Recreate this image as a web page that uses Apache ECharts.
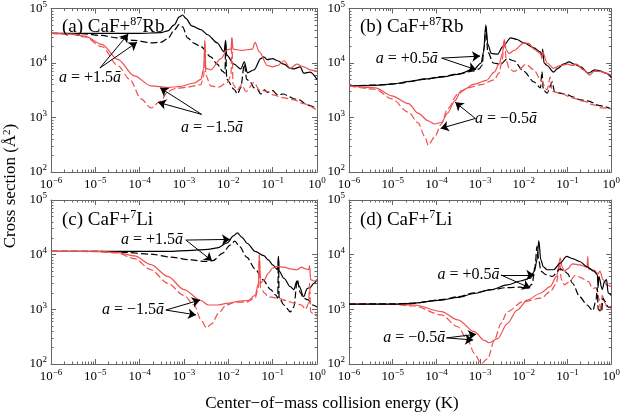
<!DOCTYPE html>
<html>
<head>
<meta charset="utf-8">
<script src="https://cdn.jsdelivr.net/npm/echarts@6/dist/echarts.min.js"></script>
<style>
  html, body { margin: 0; padding: 0; background: #fff; }
  #chart { width: 623px; height: 416px; }
</style>
</head>
<body>
<div id="chart"></div>
<script>
// ---- data: [collision energy (K), cross section (A^2)] ----

// (a) CaF + 87Rb, a = +/-1.5 abar
var a_plusSolid = [[1e-6,3.5e4],[1e-5,3.5e4],[1e-4,3.5e4],[3e-4,3.6e4],[4.3e-4,3.9e4],[6e-4,5e4],[7.8e-4,7e4],[9.3e-4,7.6e4],[1.1e-3,6.6e4],[1.5e-3,4.8e4],[2.4e-3,4.1e4],[3.4e-3,3.3e4],[5.6e-3,2.35e4],[8e-3,1.6e4],[8.7e-3,2.6e4],[9.2e-3,1.4e4],[1.35e-2,9.5e3],[1.9e-2,7.8e3],[2.3e-2,1.05e4],[2.7e-2,6.6e3],[3.8e-2,7.5e3],[5.4e-2,1.2e4],[6.3e-2,1.3e4],[7.5e-2,1.15e4],[0.1,1.2e4],[0.13,1.1e4],[0.18,9.5e3],[0.25,8e3],[0.3,7.8e3],[0.42,8.5e3],[0.5,6.5e3],[0.7,6.8e3],[1,5e3]];
var a_plusDashed = [[1e-6,3.5e4],[5e-6,3.45e4],[1.4e-5,3.2e4],[3e-5,2.9e4],[7.6e-5,2.6e4],[1.8e-4,2.35e4],[3e-4,2.4e4],[4.3e-4,2.8e4],[6e-4,4e4],[7.8e-4,5.1e4],[9.3e-4,4.6e4],[1.2e-3,2.9e4],[1.7e-3,2.3e4],[2.4e-3,2e4],[4e-3,1.3e4],[5.6e-3,9.5e3],[7.5e-3,7e3],[8.4e-3,6.5e3],[8.7e-3,2.2e4],[9.2e-3,5e3],[1.35e-2,3.3e3],[1.6e-2,2.7e3],[1.9e-2,3.5e3],[2.3e-2,9.5e3],[2.6e-2,5e3],[3.1e-2,4.5e3],[3.8e-2,3.5e3],[4.5e-2,3.3e3],[5.4e-2,2.7e3],[6.5e-2,3.2e3],[7.6e-2,2.9e3],[0.1,3.1e3],[0.13,2.6e3],[0.18,2.7e3],[0.24,2.4e3],[0.3,2.2e3],[0.4,2.1e3],[0.6,1.7e3],[1,1.45e3]];
var a_minusSolid = [[1e-6,3.5e4],[3e-6,3.4e4],[5.8e-6,3.1e4],[1.4e-5,2.2e4],[3.2e-5,1.17e4],[7.6e-5,5.8e3],[1.8e-4,3.8e3],[4.3e-4,3.55e3],[8e-4,3.7e3],[1.7e-3,4.3e3],[2.4e-3,5e3],[2.8e-3,8e3],[2.95e-3,2.6e4],[3.1e-3,8e3],[4e-3,7.5e3],[6.8e-3,1.2e4],[9.5e-3,1.75e4],[1.15e-2,1.8e4],[1.2e-2,2.9e4],[1.28e-2,1.8e4],[2e-2,1.7e4],[3.5e-2,1.8e4],[4e-2,2.4e4],[5e-2,1.6e4],[7.6e-2,9e3],[0.1,8.5e3],[0.13,9e3],[0.18,1.1e4],[0.25,8e3],[0.35,9.5e3],[0.5,8.5e3],[0.7,7.5e3],[1,7e3]];
var a_minusDashed = [[1e-6,3.5e4],[3e-6,3.35e4],[5.8e-6,3e4],[1.4e-5,2e4],[3.2e-5,9e3],[6e-5,5e3],[1.07e-4,2.2e3],[1.8e-4,1.5e3],[3e-4,2e3],[4.3e-4,3e3],[6.3e-4,3.4e3],[1.2e-3,3.6e3],[2.4e-3,4e3],[2.8e-3,6e3],[2.95e-3,2.5e4],[3.1e-3,6e3],[4e-3,3.8e3],[6e-3,3.6e3],[9.5e-3,4.4e3],[1.15e-2,6e3],[1.2e-2,2.9e4],[1.28e-2,4e3],[1.6e-2,3.2e3],[2e-2,4e3],[2.5e-2,3e3],[3.8e-2,4.4e3],[5e-2,3.2e3],[7.6e-2,3e3],[0.1,2.6e3],[0.18,2.3e3],[0.3,2.1e3],[0.5,1.8e3],[1,1.35e3]];

// (b) CaF + 87Rb, a = +/-0.5 abar
var b_plusSolid = [[1e-6,3.8e3],[4e-6,3.9e3],[9.5e-6,4.1e3],[2.5e-5,4.6e3],[5.5e-5,5.1e3],[1.3e-4,5.5e3],[3.1e-4,6.2e3],[7.4e-4,7.8e3],[1.05e-3,1e4],[1.2e-3,1.6e4],[1.35e-3,5e4],[1.5e-3,2.2e4],[1.8e-3,1.5e4],[2.5e-3,1.45e4],[3.3e-3,2e4],[5e-3,2.9e4],[7e-3,2.7e4],[1e-2,2.35e4],[1.7e-2,1.9e4],[2.4e-2,1.6e4],[2.6e-2,1.3e4],[2.7e-2,1.8e4],[2.9e-2,1e4],[3.4e-2,9e3],[4.8e-2,6.8e3],[6e-2,8e3],[8e-2,9.5e3],[0.11,1.05e4],[0.14,9.5e3],[0.2,8.5e3],[0.3,6.5e3],[0.42,7.5e3],[0.55,7.2e3],[0.75,6.5e3],[1,5.4e3]];
var b_plusDashed = [[1e-6,3.8e3],[5e-6,3.95e3],[1.3e-5,4.2e3],[5e-5,5e3],[1.3e-4,5.6e3],[3.1e-4,6.3e3],[7.4e-4,7.2e3],[9.5e-4,7.8e3],[1.1e-3,9e3],[1.25e-3,2e4],[1.35e-3,4.5e4],[1.5e-3,1.6e4],[2e-3,1e4],[2.95e-3,9.5e3],[4.2e-3,1.2e4],[5.9e-3,1.1e4],[1e-2,7e3],[1.7e-2,4.5e3],[2.4e-2,3.5e3],[2.6e-2,7e3],[2.8e-2,3.2e3],[3.4e-2,2.8e3],[4.5e-2,4.5e3],[5e-2,3e3],[6.8e-2,2.8e3],[0.1,2.6e3],[0.13,2.4e3],[0.2,2.1e3],[0.3,2e3],[0.55,1.65e3],[1,1.45e3]];
var b_minusSolid = [[1e-6,3.8e3],[4e-6,3.5e3],[9.5e-6,2.5e3],[2.3e-5,1.8e3],[3.8e-5,1.2e3],[6.5e-5,8.7e2],[9.1e-5,7.6e2],[1.3e-4,8.1e2],[1.8e-4,1.2e3],[2.6e-4,2e3],[3.7e-4,3.1e3],[7.4e-4,4.1e3],[1.4e-3,4.8e3],[2.1e-3,6.8e3],[2.7e-3,9.5e3],[3.25e-3,1.5e4],[3.55e-3,2.7e4],[4e-3,1.7e4],[4.6e-3,1.5e4],[6e-3,1.7e4],[1e-2,2.35e4],[1.3e-2,2.3e4],[1.7e-2,1.8e4],[2.4e-2,1.5e4],[2.6e-2,1.2e4],[2.7e-2,1.6e4],[3.4e-2,1e4],[4.8e-2,8e3],[6.8e-2,9e3],[0.1,9.5e3],[0.13,9e3],[0.16,9.5e3],[0.23,7.5e3],[0.32,6e3],[0.4,7e3],[0.55,7e3],[0.75,6.5e3],[1,6e3]];
var b_minusDashed = [[1e-6,3.8e3],[4e-6,3.3e3],[9.5e-6,2.2e3],[2.3e-5,1.25e3],[3.8e-5,8e2],[5.5e-5,4.4e2],[6.5e-5,3.1e2],[9.1e-5,4.4e2],[1.3e-4,7.6e2],[1.8e-4,1.45e3],[3.1e-4,2.7e3],[5.2e-4,3.5e3],[1.05e-3,4e3],[2.1e-3,4.9e3],[2.7e-3,6.5e3],[3.25e-3,1.2e4],[3.55e-3,2.6e4],[4e-3,1.1e4],[4.6e-3,8e3],[5.9e-3,7e3],[8.3e-3,8e3],[1.1e-2,9.5e3],[1.7e-2,7.5e3],[2.4e-2,5e3],[3.4e-2,3.2e3],[4e-2,5.5e3],[4.5e-2,3e3],[6.8e-2,2.8e3],[0.13,2.3e3],[0.23,2e3],[0.4,1.7e3],[0.6,1.5e3],[1,1.45e3]];

// (c) CaF + 7Li, a = +/-1.5 abar
var c_plusSolid = [[1e-6,1.15e4],[1e-4,1.15e4],[4.3e-4,1.15e4],[1.5e-3,1.2e4],[3.5e-3,1.25e4],[5.6e-3,1.33e4],[9.5e-3,1.64e4],[1.3e-2,2.2e4],[1.6e-2,2.5e4],[2e-2,2.1e4],[2.7e-2,1.6e4],[4e-2,1.15e4],[6.3e-2,9.6e3],[8e-2,8e3],[0.1,6.5e3],[0.13,5.3e3],[0.135,9.3e3],[0.14,5e3],[0.18,3.7e3],[0.25,2.6e3],[0.3,2.3e3],[0.35,3.3e3],[0.4,2.6e3],[0.5,1.7e3],[0.6,2.4e3],[0.7,2.5e3],[0.85,3e3],[1,3.5e3]];
var c_plusDashed = [[1e-6,1.15e4],[1e-5,1.15e4],[5e-5,1.1e4],[1.8e-4,1.02e4],[5e-4,9e3],[1.5e-3,8e3],[3e-3,7.5e3],[4.5e-3,7.8e3],[7.5e-3,1.07e4],[1.1e-2,1.5e4],[1.4e-2,1.77e4],[1.8e-2,1.4e4],[2.6e-2,9e3],[4e-2,5.5e3],[6e-2,3.5e3],[9e-2,2.3e3],[0.12,1.8e3],[0.13,1.6e3],[0.135,9e3],[0.14,1.6e3],[0.18,1.2e3],[0.25,9e2],[0.3,1.1e3],[0.36,3.5e3],[0.42,2e3],[0.5,1.6e3],[0.62,1.5e3],[0.8,1.2e3],[1,1.1e3]];
var c_minusSolid = [[1e-6,1.15e4],[1e-5,1.15e4],[3e-5,1.1e4],[7.6e-5,9.5e3],[1.8e-4,6.6e3],[4.3e-4,4e3],[1e-3,2.3e3],[2.4e-3,1.45e3],[3.5e-3,1.2e3],[5.6e-3,1.2e3],[1e-2,1.3e3],[1.7e-2,1.4e3],[2.8e-2,1.45e3],[4e-2,1.8e3],[4.8e-2,3e3],[5e-2,1e4],[5.3e-2,3e3],[6.5e-2,3.5e3],[8e-2,4.6e3],[0.1,5.7e3],[0.13,6.1e3],[0.18,5.9e3],[0.25,5.5e3],[0.35,5.3e3],[0.45,5.9e3],[0.55,5.5e3],[0.65,5.3e3],[0.68,6.3e3],[0.72,3.5e3],[0.85,3.3e3],[1,3.4e3]];
var c_minusDashed = [[1e-6,1.15e4],[1e-5,1.14e4],[3e-5,1.08e4],[7.6e-5,8.5e3],[1.8e-4,5.3e3],[4.3e-4,3e3],[1e-3,1.8e3],[1.7e-3,1.2e3],[2.4e-3,6.5e2],[3.2e-3,4.6e2],[4.3e-3,5.5e2],[6e-3,8.5e2],[9e-3,1.2e3],[1.4e-2,1.35e3],[2.5e-2,1.35e3],[4e-2,1.6e3],[4.8e-2,2.5e3],[5e-2,1e4],[5.3e-2,2.5e3],[6.5e-2,2e3],[8e-2,1.7e3],[0.13,1.6e3],[0.2,1.45e3],[0.3,1.3e3],[0.45,1.2e3],[0.55,1e3],[0.65,1.3e3],[0.68,3e3],[0.72,9e2],[0.85,8e2],[1,7.5e2]];

// (d) CaF + 7Li, a = +/-0.5 abar
var d_plusSolid = [[1e-6,1.25e3],[1e-5,1.25e3],[2.3e-5,1.27e3],[1.3e-4,1.48e3],[3.1e-4,1.65e3],[7.4e-4,1.95e3],[1.8e-3,2.3e3],[4.2e-3,2.8e3],[8.3e-3,3.3e3],[1.4e-2,3.7e3],[1.75e-2,5e3],[2e-2,8e3],[2.2e-2,1.8e4],[2.45e-2,8e3],[2.8e-2,6e3],[3.4e-2,5.3e3],[4.8e-2,5.3e3],[6.8e-2,7e3],[9.5e-2,9.3e3],[0.13,8.5e3],[0.19,7.5e3],[0.28,6e3],[0.4,5e3],[0.48,4.3e3],[0.5,2.5e3],[0.52,4e3],[0.62,2.3e3],[0.7,3.2e3],[0.78,3.5e3],[0.85,2e3],[1,1.8e3]];
var d_plusDashed = [[1e-6,1.25e3],[1e-5,1.26e3],[3e-5,1.3e3],[1.3e-4,1.5e3],[3.1e-4,1.7e3],[7.4e-4,2e3],[1.8e-3,2.3e3],[4.2e-3,2.5e3],[8.3e-3,2.55e3],[1.2e-2,2.4e3],[1.55e-2,2.9e3],[1.8e-2,6e3],[2e-2,1.42e4],[2.2e-2,8e3],[2.45e-2,5e3],[3.2e-2,4.3e3],[4.5e-2,4e3],[6.8e-2,5.5e3],[8.5e-2,5e3],[0.1,4.5e3],[0.13,3e3],[0.19,1.7e3],[0.28,1.2e3],[0.38,9.5e2],[0.45,1.5e3],[0.48,2.5e3],[0.5,1e3],[0.6,9e2],[0.65,1.6e3],[0.72,1.4e3],[0.85,1.1e3],[1,1.1e3]];
var d_minusSolid = [[1e-6,1.25e3],[1e-5,1.24e3],[3.1e-5,1.2e3],[1.3e-4,9.1e2],[3.1e-4,6.4e2],[7.4e-4,3.9e2],[1.25e-3,2.7e2],[1.6e-3,2.45e2],[2.5e-3,2.9e2],[4.2e-3,5.5e2],[7e-3,9.7e2],[1.2e-2,1.48e3],[2.4e-2,1.97e3],[4e-2,2.6e3],[5.6e-2,4e3],[6.8e-2,8.7e3],[7.5e-2,6e3],[8.5e-2,5e3],[0.1,5.5e3],[0.13,6.8e3],[0.19,6.5e3],[0.28,5.9e3],[0.29,9.3e3],[0.3,5.5e3],[0.4,5.2e3],[0.5,4.5e3],[0.55,5e3],[0.65,3.5e3],[0.78,2.8e3],[1,2.6e3]];
var d_minusDashed = [[1e-6,1.25e3],[1e-5,1.23e3],[3.1e-5,1.15e3],[1.3e-4,7.9e2],[3.1e-4,4.8e2],[5.2e-4,2.7e2],[7.4e-4,1.56e2],[1.05e-3,1.02e2],[1.5e-3,1.25e2],[2.1e-3,2.7e2],[3e-3,5.5e2],[4.2e-3,9.1e2],[9.5e-3,1.38e3],[2.5e-2,1.6e3],[4e-2,2.1e3],[5.5e-2,2.9e3],[6.6e-2,7e3],[7.2e-2,3.5e3],[8.5e-2,2.8e3],[0.11,3.2e3],[0.15,4.2e3],[0.2,3.8e3],[0.3,3.2e3],[0.38,2.4e3],[0.45,2.5e3],[0.52,1.6e3],[0.58,9e2],[0.62,1.8e3],[0.72,1.3e3],[0.85,1e3],[1,1e3]];

// annotation arrows: label spot, common tail, heads (data coords)
var notes = [
  [ { text: '+1.5', at: [7.6e-6, 5.3e3], from: [1.27e-5, 8.1e3], to: [[5.5e-5, 3.4e4], [8.7e-5, 2.4e4]] },
    { text: '\u22121.5', at: [4.3e-3, 6.6e2], from: [2.5e-3, 1.14e3], to: [[2.9e-4, 3.5e3], [2.6e-4, 1.9e3]] } ],
  [ { text: '+0.5', at: [2.1e-5, 1.18e4], from: [1.32e-4, 1.23e4], to: [[1e-3, 1.34e4], [8.1e-4, 7.5e3]] },
    { text: '\u22120.5', at: [3.9e-3, 9.6e2], from: [7.8e-4, 9.6e2], to: [[2.7e-4, 1.9e3], [1.25e-4, 6.3e2]] } ],
  [ { text: '+1.5', at: [1.9e-4, 1.85e4], from: [1.1e-3, 1.85e4], to: [[1.09e-2, 1.9e4], [4.3e-3, 7.7e3]] },
    { text: '\u22121.5', at: [7.1e-5, 9.7e2], from: [3.9e-4, 9.7e2], to: [[2.3e-3, 1.48e3], [1.87e-3, 7.9e2]] } ],
  [ { text: '+0.5', at: [5.4e-4, 4.25e3], from: [3e-3, 4.25e3], to: [[1.74e-2, 4.25e3], [1.4e-2, 2.45e3]] },
    { text: '\u22120.5', at: [3.1e-5, 3e2], from: [1.7e-4, 3e2], to: [[8.1e-4, 3.5e2], [6.9e-4, 2.75e2]] } ]
];

var panelNames = [['(a) CaF+', '87', 'Rb'], ['(b) CaF+', '87', 'Rb'], ['(c) CaF+', '7', 'Li'], ['(d) CaF+', '7', 'Li']];
var panelCurves = [
  [a_plusSolid, a_plusDashed, a_minusSolid, a_minusDashed],
  [b_plusSolid, b_plusDashed, b_minusSolid, b_minusDashed],
  [c_plusSolid, c_plusDashed, c_minusSolid, c_minusDashed],
  [d_plusSolid, d_plusDashed, d_minusSolid, d_minusDashed]
];

// ---- layout / styling ----
var FONT = "'Liberation Serif', 'DejaVu Serif', serif";
var RED = '#f24e4e';
var AXIS = '#666';
var grids = [
  { left: 51, top: 7, width: 266, height: 165 },
  { left: 349, top: 7, width: 266, height: 165 },
  { left: 51, top: 200, width: 266, height: 164 },
  { left: 349, top: 200, width: 266, height: 164 }
];

var tickRich = {
  b: { fontFamily: FONT, fontSize: 13, color: '#000' },
  s: { fontFamily: FONT, fontSize: 9, color: '#000', padding: [0, 0, 8, 0] }
};
function powLabel(v) {
  var e = Math.round(Math.log10(v));
  return '{b|10}{s|' + (e < 0 ? '\u2212' + (-e) : e) + '}';
}

function makeAxis(g, pos, isX) {
  var labels = (pos === 'bottom' || pos === 'left');
  return {
    type: 'log', logBase: 10, gridIndex: g, position: pos,
    min: isX ? 1e-6 : 100, max: isX ? 1 : 1e5,
    axisLine: { show: true, onZero: false, lineStyle: { color: AXIS, width: 1 } },
    axisTick: { show: true, inside: true, length: 5, lineStyle: { color: AXIS } },
    minorTick: { show: true, splitNumber: 9, length: 2.5, lineStyle: { color: AXIS } },
    splitLine: { show: false },
    axisLabel: { show: labels, formatter: powLabel, rich: tickRich, margin: 4 }
  };
}

var xAxis = [], yAxis = [], series = [], title = [];
grids.forEach(function (gr, g) {
  xAxis.push(makeAxis(g, 'bottom', true), makeAxis(g, 'top', true));
  yAxis.push(makeAxis(g, 'left', false), makeAxis(g, 'right', false));

  var nm = panelNames[g];
  title.push({
    text: '{t|' + nm[0] + '}{s|' + nm[1] + '}{t|' + nm[2] + '}',
    left: gr.left + 6, top: gr.top + 4,
    textStyle: { fontWeight: 'normal', rich: {
      t: { fontFamily: FONT, fontSize: 19, fontWeight: 'normal', color: '#000' },
      s: { fontFamily: FONT, fontSize: 12, fontWeight: 'normal', color: '#000', padding: [0, 0, 10, 0] }
    } }
  });

  var styles = [
    { color: '#000', type: 'solid' },
    { color: '#000', type: [7, 3] },
    { color: RED, type: 'solid' },
    { color: RED, type: [7, 3] }
  ];
  var order = g === 3 ? [2, 3, 0, 1] : [0, 1, 2, 3];
  order.forEach(function (k, idx) {
    var s = {
      type: 'line', xAxisIndex: 2 * g, yAxisIndex: 2 * g,
      data: panelCurves[g][k], showSymbol: false, symbol: 'none',
      smooth: 0.3, smoothMonotone: 'x',
      lineStyle: { color: styles[k].color, type: styles[k].type, width: 1.2 },
      silent: true, z: 2 + idx
    };
    if (idx === 0) {
      var arrows = [], texts = [];
      notes[g].forEach(function (n) {
        n.to.forEach(function (t) {
          arrows.push([{ coord: n.from }, { coord: t }]);
        });
        texts.push({ coord: n.at, value: n.text });
      });
      s.markLine = {
        silent: true, symbol: ['none', 'arrow'], symbolSize: 8, precision: 10,
        lineStyle: { color: '#000', width: 1, type: 'solid' },
        label: { show: false }, animation: false, data: arrows, z: 10
      };
      s.markPoint = {
        silent: true, symbol: 'circle', symbolSize: 1,
        itemStyle: { color: 'rgba(0,0,0,0)' },
        label: {
          show: true, position: 'inside',
          formatter: function (p) { return '{i|a} = ' + p.value + '{i|\u0101}'; },
          fontFamily: FONT, fontSize: 16, color: '#000',
          rich: { i: { fontFamily: FONT, fontSize: 16, fontStyle: 'italic', color: '#000' } }
        },
        data: texts
      };
    }
    series.push(s);
  });
});

var chart = echarts.init(document.getElementById('chart'));
chart.setOption({
  animation: false,
  backgroundColor: '#fff',
  title: title,
  grid: grids,
  xAxis: xAxis,
  yAxis: yAxis,
  series: series,
  graphic: [
    {
      type: 'text', x: 11, y: 186, rotation: Math.PI / 2,
      style: {
        text: '{n|Cross section (\u00c5}{s|2}{n|)}',
        textAlign: 'center', textVerticalAlign: 'middle',
        rich: {
          n: { fontFamily: FONT, fontSize: 17, fill: '#000' },
          s: { fontFamily: FONT, fontSize: 11, fill: '#000', padding: [0, 0, 8, 0] }
        }
      }
    },
    {
      type: 'text', x: 332, y: 404,
      style: {
        text: 'Center\u2212of\u2212mass collision energy (K)',
        font: '17px ' + FONT, fill: '#000',
        textAlign: 'center', textVerticalAlign: 'middle'
      }
    }
  ]
});
</script>
</body>
</html>
